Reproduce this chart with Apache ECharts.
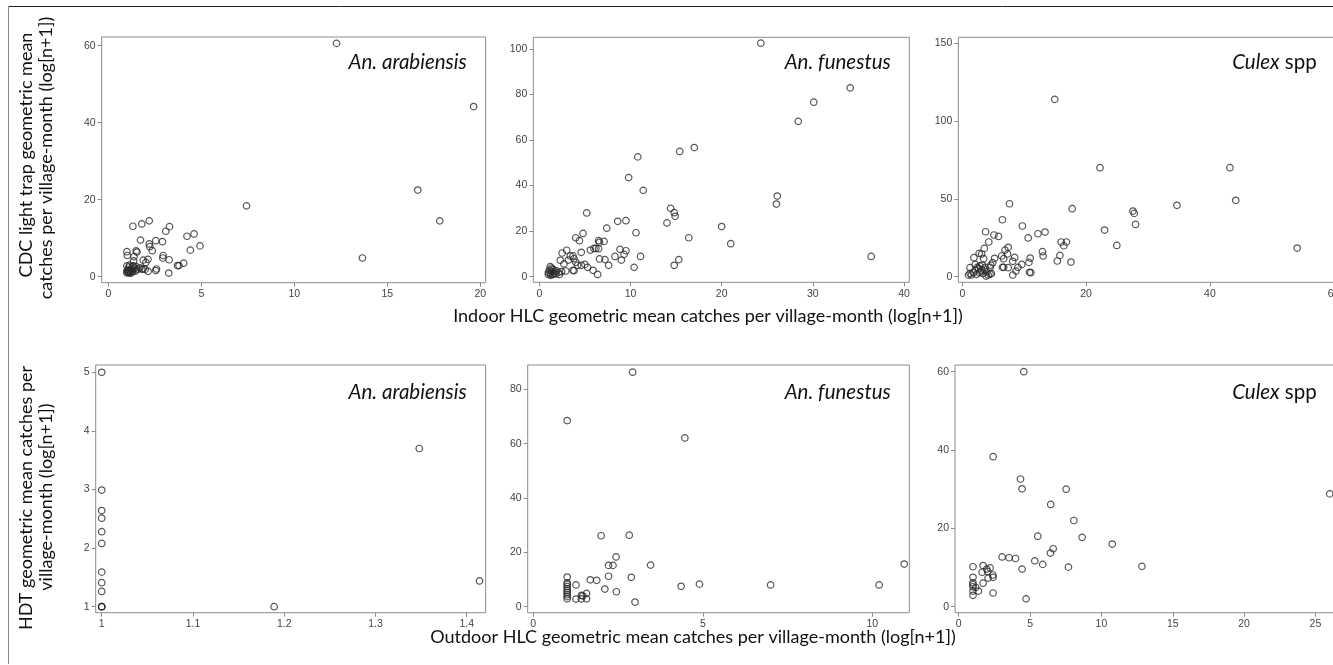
<!DOCTYPE html>
<html>
<head>
<meta charset="utf-8">
<script src="https://cdn.jsdelivr.net/npm/echarts@6/dist/echarts.min.js"></script>
<style>
html,body{margin:0;padding:0;background:#fff;overflow:hidden;}
#c{width:1333px;height:665px;}
</style>
</head>
<body>
<div id="c"></div>
<script>
// ---------- DATA ----------
const speciesNames = ['An. arabiensis', 'An. funestus', 'Culex spp'];

// Top row: Indoor HLC (x) vs CDC light trap (y)
const arabIndoorCDC = [
  [12.27,60.6],[19.64,44.2],[16.64,22.5],[17.82,14.5],[13.66,4.85],[7.43,18.4],
  [1.32,13.1],[1.80,13.7],[2.20,14.5],[3.29,13.0],[3.09,11.8],[1.73,9.5],[2.2,8.5],[2.23,7.8],
  [2.36,6.75],[2.55,9.35],[2.91,9.1],[4.23,10.5],[4.61,11.1],[4.41,6.9],[4.93,8.0],[1.0,6.5],
  [1.02,5.5],[1.5,6.7],[1.54,6.4],[1.38,5.2],[2.95,5.5],[2.93,4.85],[3.27,4.4],[1.88,4.3],
  [2.13,4.5],[2.02,3.7],[1.36,4.1],[4.05,3.5],[3.8,2.9],[3.72,2.9],[3.25,0.95],[2.14,1.4],
  [2.59,2.0],[2.55,1.6],[1.88,2.1],[1.98,1.9],
  [1.0,1.0],[1.05,1.2],[1.1,1.0],[1.15,1.5],[1.2,1.1],[1.25,2.0],[1.1,2.5],[1.0,2.8],
  [1.3,1.3],[1.4,2.2],[1.5,1.8],[1.2,0.9],[1.05,1.8],[1.35,2.8],[1.6,2.0],[1.7,2.3],
  [1.8,1.9],[1.15,3.0],[1.0,1.5],[1.1,1.3],[1.25,1.6],[1.45,1.4],[1.3,2.6],[1.5,2.6]
];
const funIndoorCDC = [
  [24.3,102.5],[34.1,82.9],[30.1,76.6],[28.4,68.2],[17.0,56.7],[15.4,55.0],[10.8,52.6],
  [9.8,43.5],[11.4,37.9],[26.1,35.4],[26.0,31.9],[14.4,30.0],[14.8,28.1],[14.9,26.5],
  [14.0,23.6],[20.0,22.0],[16.4,17.1],[21.0,14.5],[36.4,8.9],[15.3,7.5],[14.8,5.0],
  [5.2,28.0],[8.6,24.3],[9.5,24.6],[7.4,21.3],[4.8,19.0],[10.6,19.3],[4.0,17.1],[4.4,15.8],
  [6.5,15.8],[6.6,15.1],[7.1,15.5],[8.85,12.0],[9.5,11.4],[9.3,9.8],[9.0,7.3],[8.3,8.9],
  [11.1,8.9],[10.4,4.1],[6.6,7.8],[7.2,7.5],[7.6,5.0],[5.6,11.7],[6.0,12.4],[6.2,12.4],
  [6.5,12.3],[4.6,10.7],[2.5,10.4],[3.0,11.6],[2.3,7.2],[2.7,5.6],[3.2,7.3],[3.4,9.1],
  [3.7,9.1],[3.8,7.9],[4.0,6.3],[4.2,5.0],[4.6,5.0],[5.0,5.4],[5.3,4.1],[5.9,2.8],[6.4,1.0],
  [2.9,2.5],[3.7,2.8],[3.8,2.6],[2.2,1.0],
  [1.2,4.4],[1.35,3.8],[1.5,3.2],[1.0,1.0],[1.2,1.5],[1.7,2.2],[2.1,1.9],[1.9,2.6],
  [1.45,1.0],[1.0,1.8],[1.25,0.6],[2.45,2.2],[1.1,2.8],[1.6,1.4],[1.35,2.3],[1.8,1.2]
];
const culexIndoorCDC = [
  [14.94,114.0],[22.25,70.1],[43.24,70.1],[44.18,49.1],[34.67,45.9],[17.75,43.7],[27.57,42.2],
  [27.78,40.7],[27.99,33.6],[22.98,30.0],[24.96,20.1],[54.1,18.4],[7.62,46.9],[6.48,36.6],
  [9.71,32.6],[12.22,27.6],[13.37,28.7],[10.65,24.9],[15.98,22.3],[16.82,22.3],[16.4,19.9],
  [12.95,16.1],[13.06,13.3],[15.77,13.7],[15.35,10.1],[17.55,9.4],[3.76,28.9],[5.12,26.8],
  [5.85,25.9],[4.28,22.3],[3.55,18.2],[2.72,15.0],[3.13,14.6],[1.88,12.2],[3.45,11.6],[5.22,11.8],
  [7.42,18.9],[6.89,17.1],[7.31,14.6],[6.37,13.3],[6.68,11.6],[8.46,12.4],[8.15,9.9],[6.68,6.0],
  [7.42,5.8],[6.48,6.0],[9.61,7.9],[8.98,6.0],[8.67,3.6],[8.15,1.1],[10.76,9.2],[10.97,12.0],
  [10.86,2.8],[11.07,2.6],[4.91,9.0],[4.6,7.5],[4.49,6.0],[1.25,5.8],
  [1.25,2.1],[1.46,1.1],[2.09,4.3],[2.61,5.4],[2.82,6.9],[3.13,4.3],[3.34,2.1],[3.97,3.2],
  [4.18,1.1],[4.49,1.7],[2.3,1.5],[3.66,6.0],[1.78,2.6],[2.72,2.6],[3.24,7.5],[2.4,6.0],
  [4.7,2.1],[3.86,0.4],[2.09,7.9],[1.0,1.0],[2.92,3.5],[3.55,4.8]
];

// Bottom row: Outdoor HLC (x) vs HDT (y)
const arabOutdoorHDT = [
  [1.0,5.0],[1.0,2.99],[1.0,2.64],[1.0,2.51],[1.0,2.28],[1.0,2.08],[1.0,1.59],[1.0,1.41],
  [1.0,1.26],[1.0,1.0],[1.0,1.0],[1.0,1.0],[1.189,1.0],[1.348,3.70],[1.414,1.44]
];
const funOutdoorHDT = [
  [2.93,86.3],[1.0,68.5],[4.47,62.1],[2.0,26.1],[2.83,26.3],[2.44,18.3],[2.22,15.2],
  [2.35,15.2],[3.46,15.3],[2.22,11.2],[2.89,10.8],[1.68,9.9],[1.87,9.7],[2.11,6.5],
  [2.45,5.5],[3.0,1.7],[4.36,7.5],[4.9,8.3],[7.0,8.0],[10.2,8.0],[10.94,15.7],[1.26,8.0],
  [1.57,4.9],[1.57,2.9],[1.42,4.2],[1.46,4.0],[1.42,2.9],[1.26,2.8],
  [1.0,10.9],[1.0,8.8],[1.0,8.2],[1.0,7.4],[1.0,6.6],[1.0,5.9],[1.0,5.2],[1.0,4.4],
  [1.0,3.7],[1.0,2.9]
];
const culexOutdoorHDT = [
  [4.56,60.0],[2.41,38.3],[4.33,32.6],[4.44,30.1],[7.53,30.0],[26.0,28.8],[6.45,26.1],
  [8.07,22.0],[5.54,18.0],[8.65,17.7],[10.76,16.0],[6.62,14.8],[6.43,13.7],[3.04,12.7],
  [3.53,12.5],[3.98,12.3],[5.33,11.7],[5.89,10.8],[12.84,10.3],[7.69,10.1],[4.44,9.6],
  [4.72,2.0],[2.41,3.5],[1.0,10.2],[1.71,10.5],[2.2,9.9],[1.64,8.8],[1.96,9.6],[2.03,9.0],
  [2.39,8.1],[2.41,7.5],[2.06,7.3],[1.71,6.0],[1.0,7.5],[1.0,6.1],[1.0,5.6],[1.19,4.9],
  [1.38,4.0],[1.0,4.0],[1.0,2.9],[1.0,5.1]
];

// Tick labels
const ticksX1 = [0,5,10,15,20];
const ticksY1 = [0,20,40,60];
const ticksX2 = [0,10,20,30,40];
const ticksY2 = [0,20,40,60,80,100];
const ticksX3 = [0,20,40,60];
const ticksY3 = [0,50,100,150];
const ticksX4 = [1,1.1,1.2,1.3,1.4];
const ticksY4 = [1,2,3,4,5];
const ticksX5 = [0,5,10];
const ticksY5 = [0,20,40,60,80];
const ticksX6 = [0,5,10,15,20,25];
const ticksY6 = [0,20,40,60];

const topXTitle = 'Indoor HLC geometric mean catches per village-month (log[n+1])';
const bottomXTitle = 'Outdoor HLC geometric mean catches per village-month (log[n+1])';
const topYTitle = ['CDC light trap geometric mean', 'catches per village-month (log[n+1])'];
const bottomYTitle = ['HDT geometric mean catches per', 'village-month (log[n+1])'];

// ---------- LAYOUT ----------
const panels = [
  {box:[101.7,37,485.7,282.7], rng:[-0.355,20.29,-1.56,62.26], xt:ticksX1, yt:ticksY1, data:arabIndoorCDC},
  {box:[533.3,37.3,909.3,282.3], rng:[-0.658,40.58,-2.46,105.1], xt:ticksX2, yt:ticksY2, data:funIndoorCDC},
  {box:[958.3,37.3,1338,282.3], rng:[-0.646,60.7,-3.6,153.9], xt:ticksX3, yt:ticksY3, data:culexIndoorCDC},
  {box:[95.7,365,485.7,612.7], rng:[0.99342,1.4208,0.8976,5.1246], xt:ticksX4, yt:ticksY4, data:arabOutdoorHDT},
  {box:[527.7,365,909.3,612.7], rng:[-0.165,11.09,-2.21,88.94], xt:ticksX5, yt:ticksY5, data:funOutdoorHDT},
  {box:[955,365,1340,612.7], rng:[-0.26,26.72,-1.53,61.7], xt:ticksX6, yt:ticksY6, data:culexOutdoorHDT}
];

const tickColor = '#8a8a8a';
const labelStyle = {fontFamily:'Liberation Sans, Arial, sans-serif', fontSize:10.5, color:'#444'};
const grids = [], xAxes = [], yAxes = [], series = [];
panels.forEach((p, i) => {
  const [l,t,r,b] = p.box;
  grids.push({left:l, top:t, width:r-l, height:b-t, show:true, borderColor:'#8c8c8c', borderWidth:1,
    backgroundColor:'rgba(0,0,0,0)', containLabel:false, outerBoundsMode:'none'});
  xAxes.push({type:'value', gridIndex:i, min:p.rng[0], max:p.rng[1], position:'bottom',
    axisLine:{show:false, onZero:false},
    axisTick:{show:true, inside:false, length:4, lineStyle:{color:tickColor, width:1}, customValues:p.xt},
    axisLabel:Object.assign({show:true, margin:6, customValues:p.xt, showMinLabel:true, showMaxLabel:true}, labelStyle),
    splitLine:{show:false}});
  yAxes.push({type:'value', gridIndex:i, min:p.rng[2], max:p.rng[3], position:'left',
    axisLine:{show:false, onZero:false},
    axisTick:{show:true, inside:false, length:4, lineStyle:{color:tickColor, width:1}, customValues:p.yt},
    axisLabel:Object.assign({show:true, margin:6, customValues:p.yt, showMinLabel:true, showMaxLabel:true}, labelStyle),
    splitLine:{show:false}});
  series.push({type:'scatter', xAxisIndex:i, yAxisIndex:i, data:p.data, symbol:'circle', symbolSize:6.5,
    itemStyle:{color:'rgba(0,0,0,0)', borderColor:'#2b2b2b', borderWidth:1.2},
    emphasis:{disabled:true}, silent:true, clip:false});
});

const titleFont = 'Lato, "Open Sans", sans-serif';
const speciesSize = 20.5;
function speciesText(name, x, y) {
  if (name === 'Culex spp') {
    return {type:'text', x:x, y:y, silent:true, style:{text:'{i|Culex} spp', fontFamily:titleFont, fontSize:speciesSize,
      fill:'#111', align:'right', verticalAlign:'middle',
      rich:{i:{fontStyle:'italic', fontFamily:titleFont, fontSize:speciesSize, fill:'#111'}}}};
  }
  return {type:'text', x:x, y:y, silent:true, style:{text:name, fontFamily:titleFont, fontSize:speciesSize, fontStyle:'italic',
    fill:'#111', align:'right', verticalAlign:'middle'}};
}
function axisTitle(text, x, y, rot) {
  return {type:'text', x:x, y:y, rotation:rot||0, silent:true, style:{text:text, fontFamily:titleFont, fontSize:18,
    fill:'#111', align:'center', verticalAlign:'middle'}};
}

const graphic = [
  {type:'line', silent:true, shape:{x1:8, y1:6.5, x2:1340, y2:6.5}, style:{stroke:'#222', lineWidth:1}},
  {type:'line', silent:true, shape:{x1:8.5, y1:6, x2:8.5, y2:664}, style:{stroke:'#888', lineWidth:1}},
  speciesText(speciesNames[0], 466.7, 62),
  speciesText(speciesNames[1], 890.7, 62),
  speciesText(speciesNames[2], 1316.7, 62),
  speciesText(speciesNames[0], 466.7, 392),
  speciesText(speciesNames[1], 890.7, 392),
  speciesText(speciesNames[2], 1316.7, 392),
  axisTitle(topXTitle, 708, 316),
  axisTitle(bottomXTitle, 693, 637),
  axisTitle(topYTitle[0], 26, 155, Math.PI/2),
  axisTitle(topYTitle[1], 46, 158, Math.PI/2),
  axisTitle(bottomYTitle[0], 26, 498, Math.PI/2),
  axisTitle(bottomYTitle[1], 46, 497, Math.PI/2)
];

const chart = echarts.init(document.getElementById('c'), null, {renderer:'canvas'});
chart.setOption({
  animation:false,
  backgroundColor:'#ffffff',
  grid:grids, xAxis:xAxes, yAxis:yAxes, series:series,
  graphic:graphic
});
</script>
</body>
</html>
